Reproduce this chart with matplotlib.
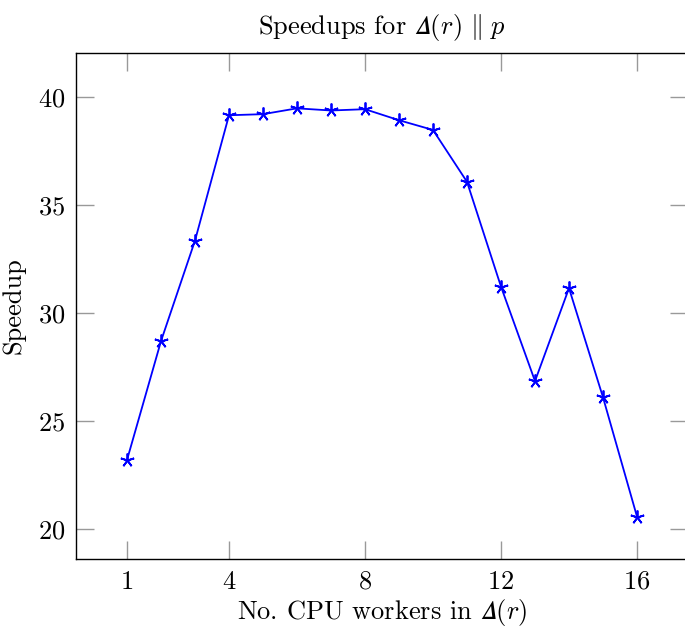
import matplotlib
matplotlib.use("Agg")
import matplotlib.pyplot as plt

# speedup per number of CPU workers
workers = [1, 2, 3, 4, 5, 6, 7, 8, 9, 10, 11, 12, 13, 14, 15, 16]
speedup = [23.2, 28.7, 33.35, 39.15, 39.2, 39.47, 39.37, 39.43, 38.92, 38.47,
           36.07, 31.22, 26.85, 31.15, 26.1, 20.58]
xticks = [1, 4, 8, 12, 16]
yticks = [20, 25, 30, 35, 40]

plt.rcParams['font.family'] = 'serif'
plt.rcParams['font.serif'] = ['cmr10', 'DejaVu Serif']
plt.rcParams['mathtext.fontset'] = 'cm'
plt.rcParams['axes.formatter.use_mathtext'] = True

fig = plt.figure(figsize=(6.85, 6.28), dpi=100)
ax = fig.add_axes([76 / 685, 1 - 559 / 628, 612 / 685, (559 - 53) / 628])

ax.plot(workers, speedup, color='blue', linewidth=1.3,
        marker=(5, 2, 0), markersize=10, markeredgewidth=1.3)

ax.set_xlim(-0.5, 17.5)
ax.set_ylim(18.62, 42.03)
ax.set_xticks(xticks)
ax.set_yticks(yticks)
ax.tick_params(direction='in', length=13, width=1.0, color='#999999',
               top=True, right=True, labelsize=19, pad=8)
for s in ax.spines.values():
    s.set_linewidth(1.0)

# italic capital delta (U+1D6E5), like LaTeX's \mathit{\Delta}
ax.set_title('Speedups for $\U0001D6E5(r)\\ \\|\\ p$', fontsize=19, pad=14)
ax.set_xlabel('No. CPU workers in $\U0001D6E5(r)$', fontsize=19, labelpad=2.5)
ax.set_ylabel('Speedup', fontsize=19, labelpad=9)

fig.savefig('out.png', dpi=100)
